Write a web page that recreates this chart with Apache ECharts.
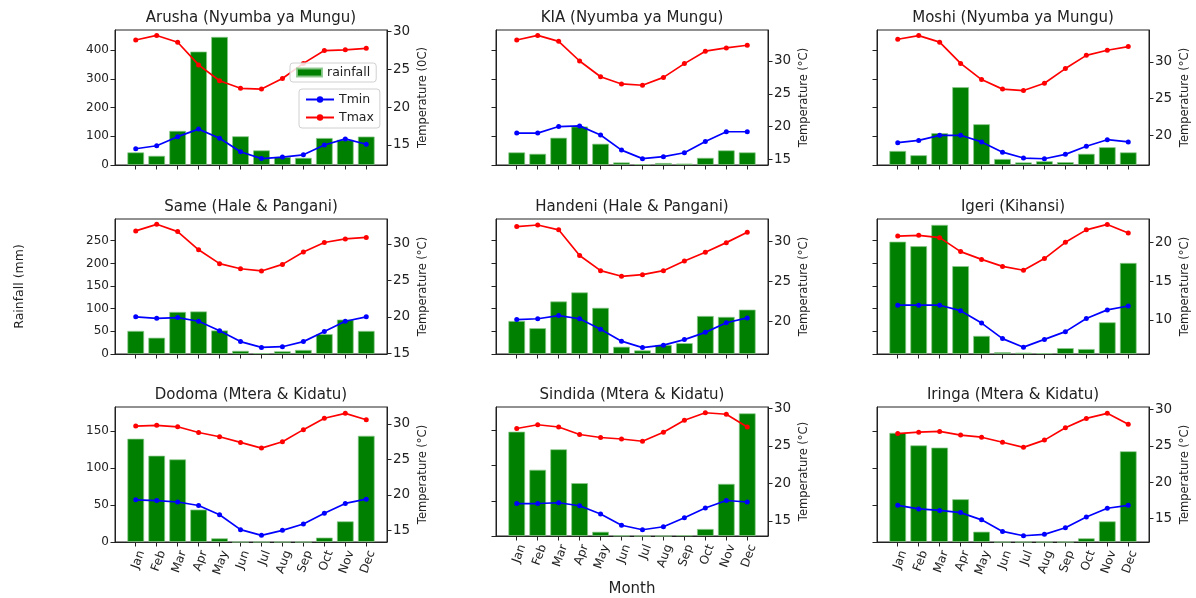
<!DOCTYPE html>
<html>
<head>
<meta charset="utf-8">
<script src="https://cdn.jsdelivr.net/npm/echarts@6/dist/echarts.min.js"></script>
<style>
html,body{margin:0;padding:0;background:#fff;}
#chart{width:1196px;height:598px;}
</style>
</head>
<body>
<div id="chart"></div>
<script>
const months = ['Jan','Feb','Mar','Apr','May','Jun','Jul','Aug','Sep','Oct','Nov','Dec'];

const arushaRain = [44, 32, 119, 395, 446, 100, 51, 28, 25, 94, 88, 99];
const arushaTmin = [14.5, 14.9, 16.1, 17.1, 15.9, 14.1, 13.2, 13.4, 13.7, 15.0, 15.8, 15.1];
const arushaTmax = [28.9, 29.5, 28.6, 25.6, 23.5, 22.5, 22.4, 23.8, 25.8, 27.5, 27.6, 27.8];

const kiaRain = [44, 39, 95, 134, 74, 9, 3, 7, 5, 25, 51, 44];
const kiaTmin = [19.0, 19.0, 20.0, 20.1, 18.7, 16.4, 15.1, 15.4, 16.0, 17.7, 19.2, 19.2];
const kiaTmax = [33.2, 33.9, 33.0, 30.0, 27.6, 26.5, 26.3, 27.5, 29.6, 31.5, 32.0, 32.4];

const moshiRain = [49, 34, 111, 271, 142, 21, 9, 13, 10, 39, 62, 44];
const moshiTmin = [19.0, 19.3, 20.0, 20.0, 19.1, 17.7, 16.9, 16.8, 17.4, 18.5, 19.4, 19.1];
const moshiTmax = [33.1, 33.6, 32.7, 29.8, 27.6, 26.3, 26.1, 27.1, 29.1, 30.9, 31.6, 32.1];

const sameRain = [51, 36, 93, 94, 52, 7, 2, 6, 9, 44, 76, 51];
const sameTmin = [20.0, 19.8, 19.9, 19.4, 18.1, 16.6, 15.8, 15.9, 16.6, 18.0, 19.4, 20.0];
const sameTmax = [31.8, 32.7, 31.7, 29.2, 27.3, 26.6, 26.3, 27.2, 28.9, 30.2, 30.7, 30.9];

const handeniRain = [73, 57, 116, 136, 102, 16, 8, 20, 24, 84, 82, 98];
const handeniTmin = [20.2, 20.3, 20.7, 20.3, 19.0, 17.5, 16.7, 17.0, 17.7, 18.6, 19.8, 20.4];
const handeniTmax = [31.8, 32.0, 31.4, 28.2, 26.3, 25.6, 25.8, 26.3, 27.5, 28.6, 29.8, 31.1];

const igeriRain = [248, 238, 285, 194, 40, 4, 3, 2, 13, 11, 70, 201];
const igeriTmin = [11.9, 11.9, 11.9, 11.2, 9.6, 7.6, 6.5, 7.5, 8.5, 10.2, 11.3, 11.8];
const igeriTmax = [20.8, 20.9, 20.6, 18.8, 17.8, 16.9, 16.4, 17.9, 20.0, 21.6, 22.3, 21.2];

const dodomaRain = [140, 117, 112, 44, 5, 0, 0, 0, 0, 6, 28, 144];
const dodomaTmin = [19.3, 19.2, 19.0, 18.5, 17.2, 15.1, 14.3, 15.0, 15.9, 17.4, 18.8, 19.4];
const dodomaTmax = [29.7, 29.8, 29.6, 28.8, 28.2, 27.4, 26.6, 27.5, 29.2, 30.8, 31.5, 30.6];

const sindidaRain = [148, 94, 123, 75, 6, 0.5, 0, 0, 1, 10, 74, 174];
const sindidaTmin = [17.3, 17.3, 17.4, 17.0, 15.9, 14.4, 13.8, 14.2, 15.4, 16.7, 17.7, 17.5];
const sindidaTmax = [27.3, 27.8, 27.5, 26.5, 26.1, 25.9, 25.6, 26.8, 28.4, 29.4, 29.2, 27.5];

const iringaRain = [148, 131, 128, 58, 14, 0, 0, 0, 0, 5, 28, 123];
const iringaTmin = [16.8, 16.3, 16.1, 15.8, 14.8, 13.2, 12.6, 12.8, 13.7, 15.2, 16.4, 16.8];
const iringaTmax = [26.7, 26.9, 27.0, 26.5, 26.2, 25.5, 24.8, 25.8, 27.5, 28.8, 29.5, 28.0];

const titles = ['Arusha (Nyumba ya Mungu)', 'KIA (Nyumba ya Mungu)', 'Moshi (Nyumba ya Mungu)',
  'Same (Hale & Pangani)', 'Handeni (Hale & Pangani)', 'Igeri (Kihansi)',
  'Dodoma (Mtera & Kidatu)', 'Sindida (Mtera & Kidatu)', 'Iringa (Mtera & Kidatu)'];
const tempNames = ['Temperature (0C)', 'Temperature (°C)', 'Temperature (°C)',
  'Temperature (°C)', 'Temperature (°C)', 'Temperature (°C)',
  'Temperature (°C)', 'Temperature (°C)', 'Temperature (°C)'];

const rainTickLabels = [[0, 100, 200, 300, 400], [0, 50, 100, 150, 200, 250], [0, 50, 100, 150]];
const tempTickLabels = [[15, 20, 25, 30], [15, 20, 25, 30], [20, 25, 30],
  [15, 20, 25, 30], [20, 25, 30], [10, 15, 20],
  [15, 20, 25, 30], [15, 20, 25, 30], [15, 20, 25, 30]];

const rains = [arushaRain, kiaRain, moshiRain, sameRain, handeniRain, igeriRain, dodomaRain, sindidaRain, iringaRain];
const tmins = [arushaTmin, kiaTmin, moshiTmin, sameTmin, handeniTmin, igeriTmin, dodomaTmin, sindidaTmin, iringaTmin];
const tmaxs = [arushaTmax, kiaTmax, moshiTmax, sameTmax, handeniTmax, igeriTmax, dodomaTmax, sindidaTmax, iringaTmax];

// axis limits (layout)
const rowRainMax = [470, 298, 183];
const tempLimits = [[12.35, 30.22], [14.13, 34.73], [15.95, 34.36],
  [14.9, 33.43], [15.9, 32.75], [5.62, 23.0],
  [13.36, 32.39], [12.97, 30.17], [11.74, 30.37]];

const colLeft = [115, 496, 877];
const rowTop = [30, 219, 407];
const gw = 272, gh = 135;
const xMin = -0.99, xMax = 11.99;
const FONT = 'DejaVu Sans';
const INK = '#222';
const monthIdx = months.map((m, i) => i);

const grids = [], xAxes = [], yAxes = [], series = [], titleOpts = [];
for (let i = 0; i < 9; i++) {
  const r = Math.floor(i / 3), c = i % 3;
  grids.push({left: colLeft[c], top: rowTop[r], width: gw, height: gh,
    show: true, borderColor: INK, borderWidth: 1, backgroundColor: 'rgba(0,0,0,0)'});
  titleOpts.push({text: titles[i], left: colLeft[c] + gw / 2, top: rowTop[r] - 19, textAlign: 'center', padding: 0,
    textStyle: {fontFamily: FONT, fontSize: 15, fontWeight: 'normal', color: INK}});
  xAxes.push({gridIndex: i, type: 'value', min: xMin, max: xMax,
    axisLine: {show: true, onZero: false, lineStyle: {color: INK, width: 1}},
    axisTick: {show: true, customValues: monthIdx, length: 4.5, lineStyle: {color: INK}},
    axisLabel: {show: r === 2, customValues: monthIdx, formatter: v => months[Math.round(v)],
      rotate: 70, align: 'right', verticalAlign: 'top', margin: 7,
      fontFamily: FONT, fontSize: 12, color: INK},
    splitLine: {show: false},
    name: i === 7 ? 'Month' : '', nameLocation: 'middle', nameGap: 46,
    nameTextStyle: {fontFamily: FONT, fontSize: 15, color: INK}});
  yAxes.push({gridIndex: i, type: 'value', position: 'left', min: 0, max: rowRainMax[r],
    axisLine: {show: true, onZero: false, lineStyle: {color: INK, width: 1}},
    axisTick: {show: true, customValues: rainTickLabels[r], length: 4.5, lineStyle: {color: INK}},
    axisLabel: {show: c === 0, customValues: rainTickLabels[r], margin: 6, fontFamily: FONT, fontSize: 12, color: INK},
    splitLine: {show: false},
    name: i === 3 ? 'Rainfall (mm)' : '', nameLocation: 'middle', nameRotate: 90, nameGap: 89,
    nameTextStyle: {fontFamily: FONT, fontSize: 12.5, color: INK}});
  yAxes.push({gridIndex: i, type: 'value', position: 'right', min: tempLimits[i][0], max: tempLimits[i][1],
    axisLine: {show: true, onZero: false, lineStyle: {color: INK, width: 1}},
    axisTick: {show: true, customValues: tempTickLabels[i], length: 4.5, lineStyle: {color: INK}},
    axisLabel: {show: true, customValues: tempTickLabels[i], margin: 6, fontFamily: FONT, fontSize: 13.5, color: INK},
    splitLine: {show: false},
    name: tempNames[i], nameLocation: 'middle', nameRotate: 90, nameGap: 30,
    nameTextStyle: {fontFamily: FONT, fontSize: 11.5, color: INK}});
  const bw = 0.8 * gw / (xMax - xMin);
  series.push({name: 'rainfall', type: 'bar', xAxisIndex: i, yAxisIndex: 2 * i,
    data: rains[i].map((v, k) => [k, v]), barWidth: bw,
    itemStyle: {color: '#008000', borderColor: 'rgba(140,200,140,0.9)', borderWidth: 0.8}, z: 2});
  series.push({name: 'Tmin', type: 'line', xAxisIndex: i, yAxisIndex: 2 * i + 1,
    data: tmins[i].map((v, k) => [k, v]), color: '#0000ff', symbol: 'circle', symbolSize: 5,
    lineStyle: {width: 1.7, color: '#0000ff'}, itemStyle: {color: '#0000ff'}, z: 3});
  series.push({name: 'Tmax', type: 'line', xAxisIndex: i, yAxisIndex: 2 * i + 1,
    data: tmaxs[i].map((v, k) => [k, v]), color: '#ff0000', symbol: 'circle', symbolSize: 5,
    lineStyle: {width: 1.7, color: '#ff0000'}, itemStyle: {color: '#ff0000'}, z: 3});
}

const legendBox = {borderColor: '#d0d0d0', borderWidth: 1, borderRadius: 3, backgroundColor: 'rgba(255,255,255,0.85)',
  textStyle: {fontFamily: FONT, fontSize: 12.5, color: INK}, orient: 'vertical', selectedMode: false};
const option = {
  animation: false,
  backgroundColor: '#ffffff',
  title: titleOpts,
  legend: [
    Object.assign({}, legendBox, {data: [{name: 'rainfall', icon: 'rect'}], left: 290, top: 63,
      itemWidth: 25, itemHeight: 8, itemGap: 4, padding: [3, 6, 3, 6]}),
    Object.assign({}, legendBox, {data: ['Tmin', 'Tmax'], left: 299, top: 89,
      itemWidth: 28, itemHeight: 8, itemGap: 5, padding: [4, 6, 4, 6]})
  ],
  grid: grids,
  xAxis: xAxes,
  yAxis: yAxes,
  series: series
};
const chart = echarts.init(document.getElementById('chart'), null, {renderer: 'canvas'});
chart.setOption(option);
</script>
</body>
</html>
